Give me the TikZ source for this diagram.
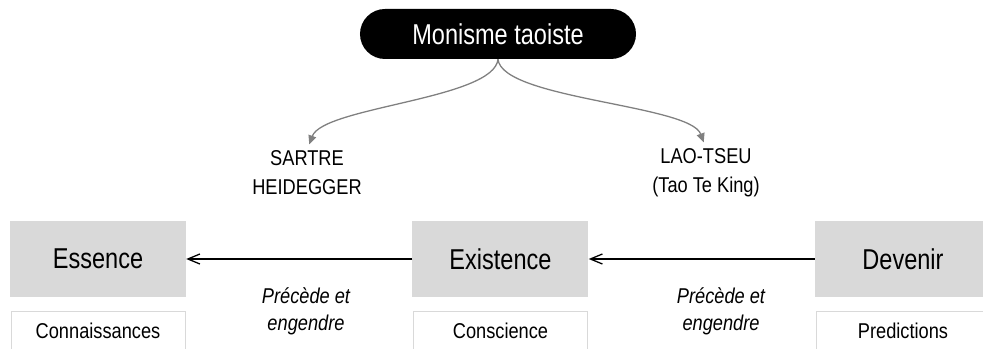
\documentclass[tikz,border=0pt]{standalone}
\usepackage{fontspec}
\setmainfont{Liberation Sans}[FakeStretch=0.85]
\newfontfamily\narrowfont{Liberation Sans}[FakeStretch=0.82]
\usetikzlibrary{positioning,arrows.meta}
\definecolor{boxgray}{HTML}{D9D9D9}
\definecolor{linkgray}{HTML}{808080}

\begin{document}
\begin{tikzpicture}[x=0.03cm, y=-0.03cm, node distance=6.78cm,
  root/.style={fill=black, text=white, rounded corners=0.75cm, minimum width=8.28cm, minimum height=1.5cm, font=\narrowfont\fontsize{24.5pt}{28pt}\selectfont},
  concept/.style={fill=boxgray, minimum width=5.28cm, minimum height=2.28cm, font=\narrowfont\fontsize{24.5pt}{28pt}\selectfont},
  facet/.style={draw=boxgray, line width=0.8pt, fill=white, minimum width=5.22cm, minimum height=1.17cm, font=\fontsize{18.3pt}{22pt}\selectfont},
  author/.style={align=center, inner sep=0pt, font=\fontsize{18.3pt}{24.7pt}\selectfont},
  verb/.style={align=center, inner sep=0pt, font=\fontsize{18.3pt}{23pt}\selectfont\itshape},
  flow/.style={-{Straight Barb[length=0.36cm,width=0.3cm]}, line width=1.1pt},
  branch/.style={-{Triangle[length=0.27cm,width=0.24cm]}, draw=linkgray, line width=1.1pt, shorten >=0.2cm}]
\useasboundingbox (0,0) rectangle (983,349);
\clip (0,0) rectangle (983,349);

%% root of the tree
\node[root](monisme) at (498,34) {Monisme taoiste};

%% the three states and what they give
\node[concept](essence) at (98,259) {Essence};
\node[concept, right=of essence](existence) {Existence};
\node[concept, right=of existence](devenir) {Devenir};

\node[facet, below=0.42cm of essence](connaissances) {Connaissances};
\node[facet, below=0.42cm of existence](conscience) {Conscience};
\node[facet, below=0.42cm of devenir](predictions) {Predictions};

%% thinkers
\node[author](sartre) at (307,173) {SARTRE\\HEIDEGGER};
\node[author](laotseu) at (706,173) {LAO-TSEU\\(Tao Te King)};

\node[verb](precede_left) at (306,311) {Précède et\\engendre};
\node[verb](precede_right) at (721,311) {Précède et\\engendre};

\draw[flow] (existence) -- (essence);
\draw[flow] (devenir) -- (existence);

\draw[branch] (monisme.south) .. controls +(-4,40) and +(16,-44) .. (sartre.north);
\draw[branch] (monisme.south) .. controls +(4,40) and +(-16,-44) .. (laotseu.north);

\end{tikzpicture}
\end{document}
